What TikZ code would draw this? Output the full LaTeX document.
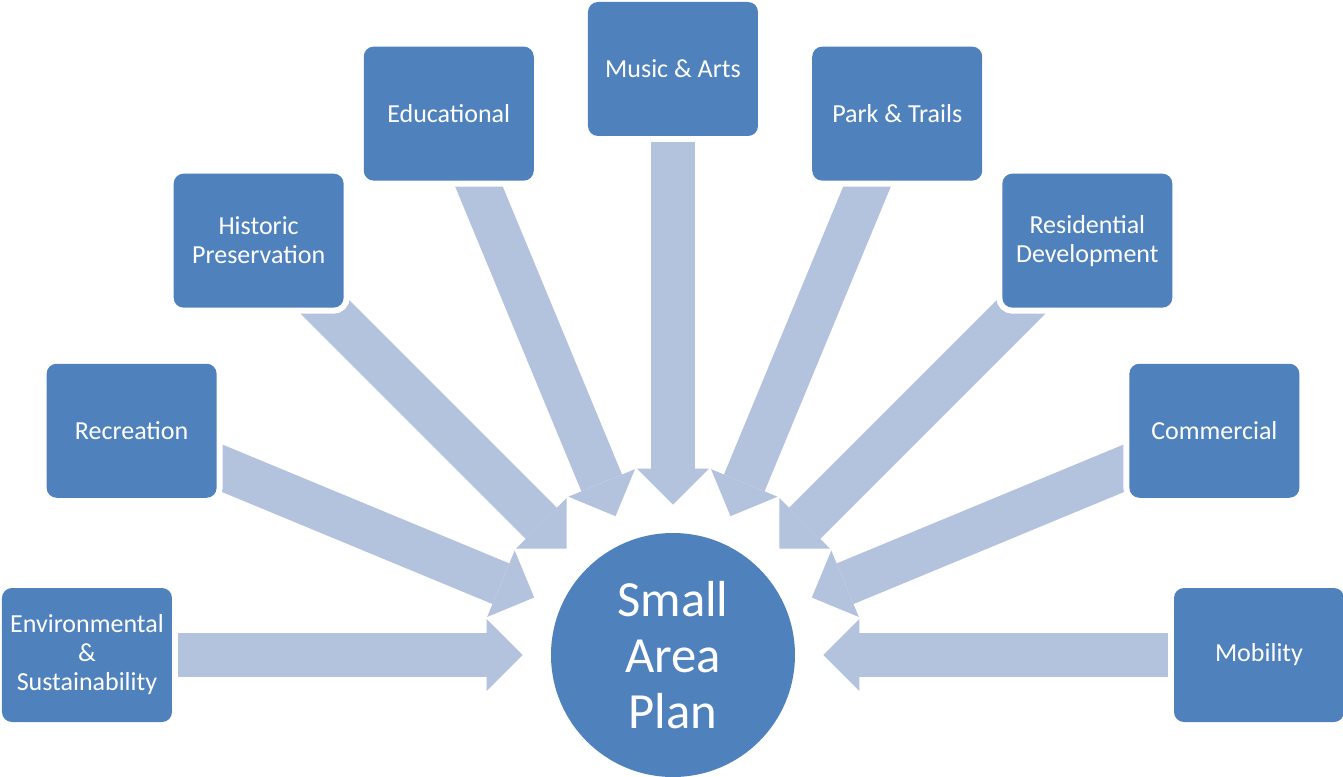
\documentclass[tikz,border=0pt]{standalone}
\usepackage{fontspec}
\setmainfont{Carlito}
\usetikzlibrary{arrows.meta, backgrounds}
\definecolor{boxblue}{RGB}{79,129,189}
\definecolor{feedblue}{RGB}{179,194,221}
\tikzstyle{topic} = [rectangle, rounded corners=7.5pt, minimum width=127.5pt, minimum height=100.5pt, inner sep=1pt, align=center, fill=boxblue, text=white, font=\fontsize{19.5pt}{21.75pt}\selectfont, preaction={draw=white, line width=9pt}]
\tikzstyle{hub} = [circle, minimum size=183pt, inner sep=0pt, align=center, fill=boxblue, text=white, font=\fontsize{38pt}{42pt}\selectfont]
\tikzstyle{feed} = [draw=feedblue, line width=33pt, -{Triangle[length=27pt, width=54pt, line width=0pt]}, shorten >=21pt]

\begin{document}
\begin{tikzpicture} [x=0.75pt, y=0.75pt]
\useasboundingbox (-673,-121) rectangle (670,655);
\node (sap) [hub] at (0,0) {Small\\Area\\Plan};

\node (env) [topic] at (180:586) {Environmental\\\&\\Sustainability};
\node (rec) [topic] at (157.5:586) {Recreation};
\node (hist) [topic] at (135:586) {Historic\\Preservation};
\node (edu) [topic] at (112.5:586) {Educational};
\node (music) [topic] at (90:586) {Music \& Arts};
\node (park) [topic] at (67.5:586) {Park \& Trails};
\node (res) [topic] at (45:586) {Residential\\Development};
\node (com) [topic] at (22.5:586) {Commercial};
\node (mob) [topic] at (0:586) {Mobility};

% arrows go under the boxes
\begin{scope}[on background layer]
\draw [feed] (env.center) -- (sap);
\draw [feed] (rec.center) -- (sap);
\draw [feed] (hist.center) -- (sap);
\draw [feed] (edu.center) -- (sap);
\draw [feed] (music.center) -- (sap);
\draw [feed] (park.center) -- (sap);
\draw [feed] (res.center) -- (sap);
\draw [feed] (com.center) -- (sap);
\draw [feed] (mob.center) -- (sap);
\end{scope}
\end{tikzpicture}
\end{document}
